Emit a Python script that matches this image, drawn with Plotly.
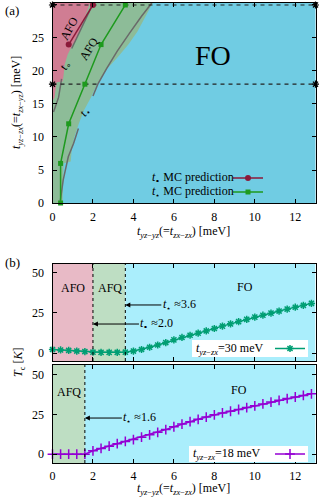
import plotly.graph_objects as go

FONT = "Liberation Serif"
W, H = 319, 497

# ---------------- data: panel (a) ----------------
# AFQ / FO phase boundary (right edge of green region)
afq_fo_y = [0, 6, 6.3, 8, 10, 12, 14, 16, 18, 20, 22, 24, 26, 28, 30.3]
afq_fo_x = [0.5, 0.55, 0.9, 0.95, 1.08, 1.3, 1.55, 1.9, 2.2, 2.6, 3.2, 3.75, 4.2, 4.55, 4.95]
# AFO / AFQ phase boundary (right edge of pink region)
afo_y = [15.5, 16, 18.3, 18.4, 19.4, 21, 22.5, 24, 25, 27.7, 30.3]
afo_x = [0, 0.1, 0.2, 0.5, 0.55, 0.6, 0.75, 1.0, 1.22, 1.53, 1.85]
# fitted curves (grey)
fit_o_seg1_x = [0.05, 0.3, 0.45]
fit_o_seg1_y = [13.8, 16.0, 18.8]
fit_o_seg2_x = [0.95, 1.45, 2.02]
fit_o_seg2_y = [23.4, 26.7, 30.3]
fit_s_seg1_x = [0.37, 0.53, 0.78, 1.04, 1.28]
fit_s_seg1_y = [0.0, 3.5, 7.0, 9.0, 11.3]
fit_s_seg2_x = [2.0, 2.24, 2.68, 3.2, 3.8, 4.4, 4.91]
fit_s_seg2_y = [16.2, 18.0, 20.4, 23.0, 25.7, 28.3, 30.3]
# MC predictions
mc_o_x = [0.8, 2.0]
mc_o_y = [24, 30]
mc_s_x = [0.4, 0.4, 0.8, 1.6, 2.4, 3.6]
mc_s_y = [0, 6, 12, 18, 24, 30]
# horizontal cuts
cut_levels = [18, 30]
x_range = [0, 13]

# ---------------- data: panel (b) ----------------
t_vals = [round(0.4 * i, 1) for i in range(33)]
tc_30 = [2.2, 1.9, 1.6, 1.2, 0.9, 0.5, 0.4, 0.4, 0.4, 0.5, 1.2, 2.2, 3.6, 5.0, 6.5, 8.2,
         9.7, 11.1, 12.4, 13.8, 15.3, 16.8, 18.2, 19.6, 21.0, 22.4, 23.6, 24.9, 26.2,
         27.4, 28.6, 29.8, 31.0]
tc_18 = [0, 0, 0, 0, 0, 2.1, 3.6, 5.0, 6.6, 8.0, 9.2, 10.7, 12.2, 13.8, 15.5, 17.3,
         19.0, 20.5, 22.0, 23.4, 24.8, 26.0, 27.1, 28.2, 29.4, 30.5, 31.7, 32.9, 34.0,
         35.1, 36.1, 37.1, 38.1]
t_o_30 = 2.0
t_s_30 = 3.6
t_s_18 = 1.6

C_PINK_A, C_GREEN_A, C_BLUE_A = "#d07d93", "#8dbc98", "#70cce3"
C_PINK_B, C_GREEN_B, C_CYAN_B = "#e8bac6", "#bedec3", "#aaeefc"
C_RED, C_GRN = "#8b1a3a", "#1e9a1e"
C_T30, C_T18 = "#009e73", "#9400d3"
GREY = "#6a6a6a"

def px_x(p):
    return p / W

def px_y(p):
    return 1 - p / H

fig = go.Figure()

# panel (a) regions
fig.add_trace(go.Scatter(x=[0] + afq_fo_x + [0], y=[0] + afq_fo_y + [30.3], fill="toself",
                         fillcolor=C_GREEN_A, line=dict(width=0), mode="lines",
                         showlegend=False, hoverinfo="skip", xaxis="x", yaxis="y"))
fig.add_trace(go.Scatter(x=[0] + afo_x + [0], y=[afo_y[0]] + afo_y + [30.3], fill="toself",
                         fillcolor=C_PINK_A, line=dict(width=0), mode="lines",
                         showlegend=False, hoverinfo="skip", xaxis="x", yaxis="y"))
for xs, ys in [(fit_o_seg1_x, fit_o_seg1_y), (fit_o_seg2_x, fit_o_seg2_y),
               (fit_s_seg1_x, fit_s_seg1_y), (fit_s_seg2_x, fit_s_seg2_y)]:
    fig.add_trace(go.Scatter(x=xs, y=ys, mode="lines", line=dict(color=GREY, width=1.5),
                             showlegend=False, hoverinfo="skip", xaxis="x", yaxis="y"))
for lv in cut_levels:
    fig.add_trace(go.Scatter(x=x_range, y=[lv, lv], mode="lines+markers",
                             line=dict(color="#222", width=1.2, dash="4px,4px"),
                             marker=dict(symbol="asterisk-open", size=6, color="black",
                                         line=dict(width=1.2, color="black")),
                             showlegend=False, hoverinfo="skip", xaxis="x", yaxis="y",
                             cliponaxis=False))
# legend entries show only the symbol; the label text is placed to its left
fig.add_trace(go.Scatter(x=mc_o_x, y=mc_o_y, mode="lines+markers",
                         line=dict(color=C_RED, width=1.5),
                         marker=dict(symbol="circle", size=6, color=C_RED),
                         name=" ", legend="legend",
                         xaxis="x", yaxis="y", cliponaxis=False))
fig.add_trace(go.Scatter(x=mc_s_x, y=mc_s_y, mode="lines+markers",
                         line=dict(color=C_GRN, width=1.5),
                         marker=dict(symbol="square", size=5, color=C_GRN),
                         name=" ", legend="legend4",
                         xaxis="x", yaxis="y", cliponaxis=False))

# panel (b)
fig.add_trace(go.Scatter(x=t_vals, y=tc_30, mode="lines+markers",
                         line=dict(color=C_T30, width=1.5),
                         marker=dict(symbol="asterisk-open", size=6, color=C_T30,
                                     line=dict(width=1.5, color=C_T30)),
                         name=" ", legend="legend2", xaxis="x2", yaxis="y2", cliponaxis=False))
fig.add_trace(go.Scatter(x=t_vals, y=tc_18, mode="lines+markers",
                         line=dict(color=C_T18, width=1.5),
                         marker=dict(symbol="cross-thin-open", size=7, color=C_T18,
                                     line=dict(width=1.5, color=C_T18)),
                         name=" ", legend="legend3", xaxis="x3", yaxis="y3", cliponaxis=False))

shapes = [
    dict(type="rect", xref="x domain", yref="y domain", x0=0, x1=1, y0=0, y1=1,
         fillcolor=C_BLUE_A, line=dict(width=0), layer="below"),
    dict(type="rect", xref="x2", yref="y2 domain", x0=0, x1=t_o_30, y0=0, y1=1,
         fillcolor=C_PINK_B, line=dict(width=0), layer="below"),
    dict(type="rect", xref="x2", yref="y2 domain", x0=t_o_30, x1=t_s_30, y0=0, y1=1,
         fillcolor=C_GREEN_B, line=dict(width=0), layer="below"),
    dict(type="rect", xref="x2", yref="y2 domain", x0=t_s_30, x1=x_range[1], y0=0, y1=1,
         fillcolor=C_CYAN_B, line=dict(width=0), layer="below"),
    dict(type="rect", xref="x3", yref="y3 domain", x0=0, x1=t_s_18, y0=0, y1=1,
         fillcolor=C_GREEN_B, line=dict(width=0), layer="below"),
    dict(type="rect", xref="x3", yref="y3 domain", x0=t_s_18, x1=x_range[1], y0=0, y1=1,
         fillcolor=C_CYAN_B, line=dict(width=0), layer="below"),
    # white legend boxes of panel (b)
    dict(type="rect", xref="paper", yref="paper", x0=px_x(192), x1=px_x(308),
         y0=px_y(357), y1=px_y(340), fillcolor="white", line=dict(width=0), layer="above"),
    dict(type="rect", xref="paper", yref="paper", x0=px_x(189), x1=px_x(308),
         y0=px_y(462), y1=px_y(446), fillcolor="white", line=dict(width=0), layer="above"),
]
for xr, yr, xv in [("x2", "y2 domain", t_o_30), ("x2", "y2 domain", t_s_30),
                   ("x3", "y3 domain", t_s_18)]:
    shapes.append(dict(type="line", xref=xr, yref=yr, x0=xv, x1=xv, y0=0, y1=1,
                       line=dict(color="black", width=1, dash="dot"), layer="above"))

F = dict(family=FONT, size=12, color="black")

def ann(text, x, y, xref, yref, xa="center", ya="middle", **kw):
    d = dict(text=text, x=x, y=y, xref=xref, yref=yref, xanchor=xa, yanchor=ya,
             showarrow=False, font=kw.pop("font", F))
    d.update(kw)
    return d

T_YZZX = "<i>t</i><sub><i>yz</i>−<i>zx</i></sub>"
XT = "<i>t</i><sub><i>yz</i>−<i>yz</i></sub>(=<i>t</i><sub><i>zx</i>−<i>zx</i></sub>) [meV]"
YT = "<i>t</i><sub><i>yz</i>−<i>zx</i></sub>(=<i>t</i><sub><i>zx</i>−<i>yz</i></sub>) [meV]"

anns = [
    ann("FO", 7.95, 22.4, "x", "y", font=dict(family=FONT, size=28, color="black")),
    ann("AFO", 0.8, 26.4, "x", "y", textangle=-62),
    ann("AFQ", 1.8, 23.3, "x", "y", textangle=-59),
    ann("<i>t</i><sub>∘</sub>", 0.62, 20.8, "x", "y", textangle=-65),
    ann("<i>t</i><sub>⋆</sub>", 1.62, 13.8, "x", "y", textangle=-55),
    ann("(a)", px_x(3), px_y(10), "paper", "paper", xa="left",
        font=dict(family=FONT, size=13, color="black")),
    ann("(b)", px_x(3), px_y(262), "paper", "paper", xa="left",
        font=dict(family=FONT, size=13, color="black")),
    ann(YT, px_x(17), px_y(103), "paper", "paper", textangle=-90),
    ann(XT, px_x(183), px_y(231.5), "paper", "paper"),
    ann(XT, px_x(183), px_y(489), "paper", "paper"),
    ann("<i>T</i><sub>c</sub> [<i>K</i>]", px_x(19), px_y(363), "paper", "paper", textangle=-90),
    # legend labels (text left of legend symbols)
    ann("<i>t</i><sub>∘</sub> MC prediction", px_x(236), px_y(178), "paper", "paper", xa="right"),
    ann("<i>t</i><sub>⋆</sub> MC prediction", px_x(236), px_y(192), "paper", "paper", xa="right"),
    ann(T_YZZX + "=30 meV", px_x(194), px_y(348.5), "paper", "paper", xa="left"),
    ann(T_YZZX + "=18 meV", px_x(191), px_y(454), "paper", "paper", xa="left"),
    # phase labels in (b)
    ann("AFO", 1.0, 40.6, "x2", "y2"),
    ann("AFQ", 2.82, 40.6, "x2", "y2"),
    ann("FO", 9.5, 41, "x2", "y2"),
    ann("AFQ", 0.8, 39, "x3", "y3"),
    ann("FO", 9.2, 40.5, "x3", "y3"),
]
for text, xv, yv, xr, yr, axp in [
        ("<i>t</i><sub>⋆</sub> ≈3.6", t_s_30, 30, "x2", "y2", 54),
        ("<i>t</i><sub>∘</sub> ≈2.0", t_o_30, 18.1, "x2", "y2", 64),
        ("<i>t</i><sub>⋆</sub> ≈1.6", t_s_18, 22.8, "x3", "y3", 55)]:
    anns.append(dict(text=text, x=xv, y=yv, xref=xr, yref=yr, showarrow=True, ax=axp, ay=0,
                     arrowhead=2, arrowsize=1, arrowwidth=1, arrowcolor="black", font=F))

xdom = [px_x(52.5), px_x(315.5)]
axis_common = dict(showline=True, linecolor="black", linewidth=1, mirror="allticks",
                   ticks="inside", ticklen=4, tickcolor="black", showgrid=False,
                   zeroline=False, automargin=False,
                   tickfont=dict(family=FONT, size=12, color="black"))

LEG = dict(xanchor="left", yanchor="middle", bgcolor="rgba(0,0,0,0)", borderwidth=0,
           font=dict(family=FONT, size=10, color="black"), itemwidth=30)

fig.update_layout(
    width=W, height=H, margin=dict(l=0, r=0, t=0, b=0, pad=0, autoexpand=False),
    paper_bgcolor="white", plot_bgcolor="white",
    font=dict(family=FONT, size=12, color="black"),
    shapes=shapes, annotations=anns,
    xaxis=dict(domain=xdom, range=x_range, tickvals=[0, 2, 4, 6, 8, 10, 12], anchor="y",
               ticklabelstandoff=3, **axis_common),
    yaxis=dict(domain=[px_y(203), px_y(3)], range=[0, 30.3], tickvals=[0, 5, 10, 15, 20, 25, 30],
               anchor="x", ticklabelstandoff=5, **axis_common),
    xaxis2=dict(domain=xdom, range=x_range, tickvals=[0, 2, 4, 6, 8, 10, 12], anchor="y2",
                showticklabels=False, **axis_common),
    yaxis2=dict(domain=[px_y(361), px_y(264)], range=[-5, 55.6], tickvals=[0, 25, 50],
                anchor="x2", ticklabelstandoff=5, **axis_common),
    xaxis3=dict(domain=xdom, range=x_range, tickvals=[0, 2, 4, 6, 8, 10, 12], anchor="y3",
                ticklabelstandoff=2, **axis_common),
    yaxis3=dict(domain=[px_y(463), px_y(365)], range=[-5.6, 56.3], tickvals=[0, 25, 50],
                anchor="x3", ticklabelstandoff=5, **axis_common),
    legend=dict(x=px_x(228), y=px_y(178), **LEG),
    legend4=dict(x=px_x(228), y=px_y(192), **LEG),
    legend2=dict(x=px_x(270), y=px_y(348.5), **LEG),
    legend3=dict(x=px_x(270), y=px_y(454), **LEG),
)

fig.write_html("out.html", config={"displayModeBar": False},
               post_script="document.body.style.margin='0';document.body.style.padding='0';")
